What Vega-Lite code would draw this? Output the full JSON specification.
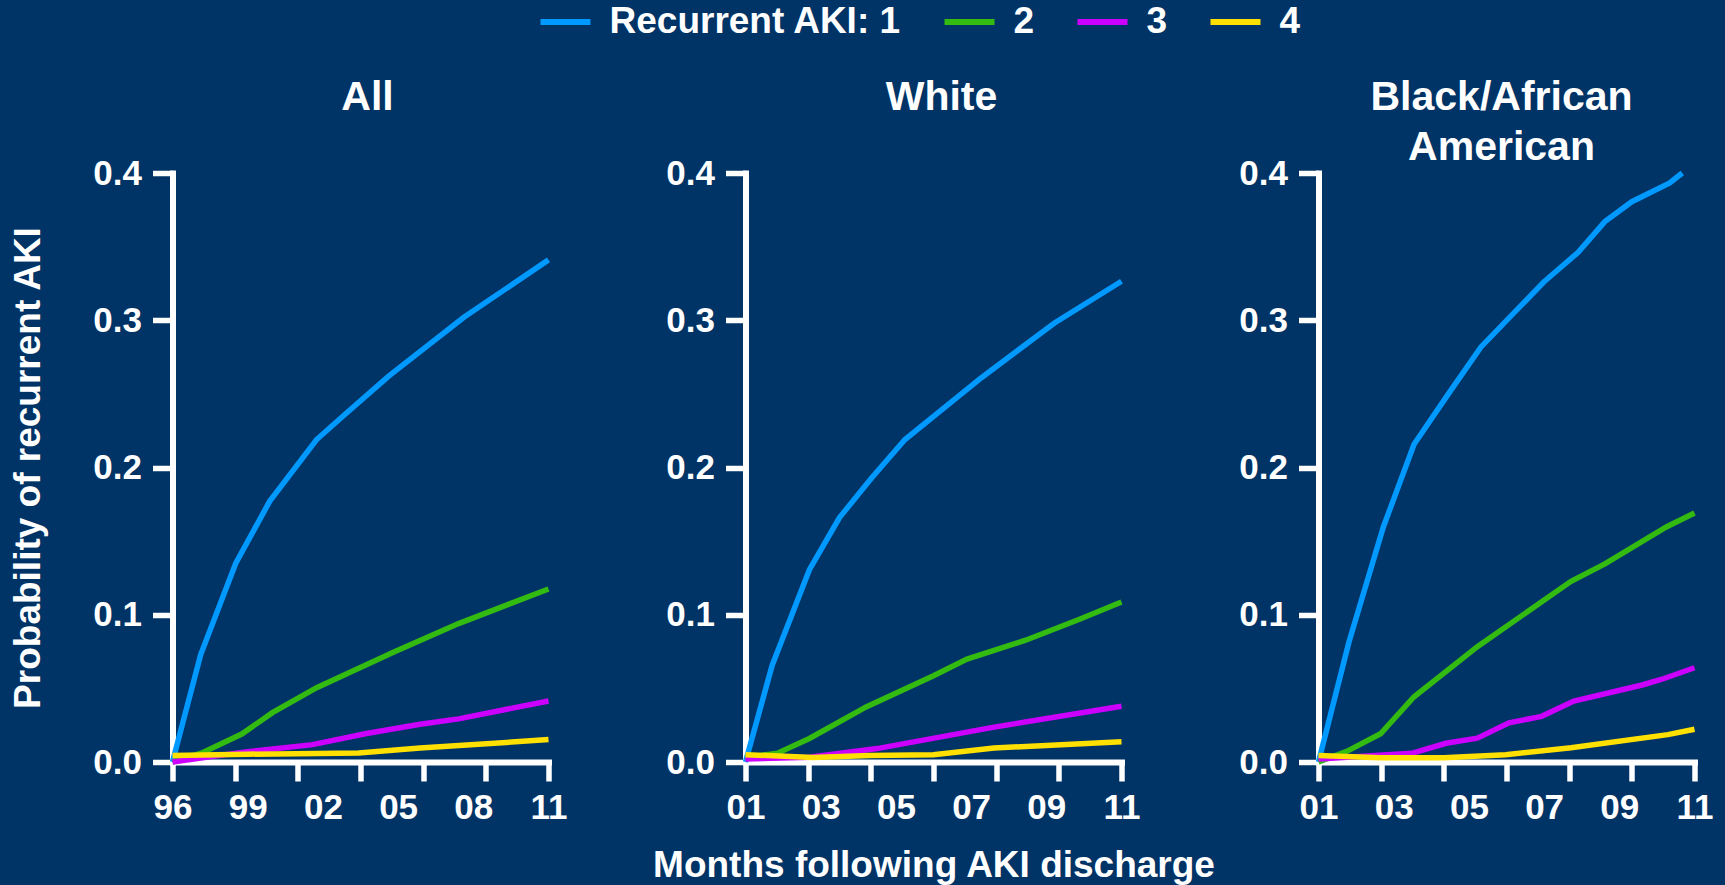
{
  "$schema": "https://vega.github.io/schema/vega-lite/v6.json",
  "background": "#003366",
  "autosize": {"type": "none"},
  "padding": {"left": 172.5, "top": 173, "right": 1552.5, "bottom": 712},
  "bounds": "flush",
  "spacing": 197,
  "datasets": {
    "all": [
      {"month": 0, "p": 0, "aki": 1}, {"month": 0.9, "p": 0.073, "aki": 1}, {"month": 2.02, "p": 0.135, "aki": 1},
      {"month": 3.1, "p": 0.177, "aki": 1}, {"month": 4.6, "p": 0.219, "aki": 1}, {"month": 5.5, "p": 0.236, "aki": 1},
      {"month": 6.9, "p": 0.262, "aki": 1}, {"month": 9.3, "p": 0.302, "aki": 1}, {"month": 12, "p": 0.341, "aki": 1},
      {"month": 0, "p": 0, "aki": 2}, {"month": 0.92, "p": 0.006, "aki": 2}, {"month": 2.21, "p": 0.019, "aki": 2},
      {"month": 3.19, "p": 0.0335, "aki": 2}, {"month": 4.6, "p": 0.0505, "aki": 2}, {"month": 7.05, "p": 0.0745, "aki": 2},
      {"month": 9.13, "p": 0.094, "aki": 2}, {"month": 12, "p": 0.1175, "aki": 2},
      {"month": 0, "p": 0, "aki": 3}, {"month": 2.27, "p": 0.0067, "aki": 3}, {"month": 4.47, "p": 0.0118, "aki": 3},
      {"month": 6.19, "p": 0.0194, "aki": 3}, {"month": 7.9, "p": 0.0256, "aki": 3}, {"month": 9.13, "p": 0.0293, "aki": 3},
      {"month": 12, "p": 0.0414, "aki": 3},
      {"month": 0, "p": 0.0044, "aki": 4}, {"month": 2.39, "p": 0.0053, "aki": 4}, {"month": 5.94, "p": 0.0061, "aki": 4},
      {"month": 7.9, "p": 0.0095, "aki": 4}, {"month": 12, "p": 0.0152, "aki": 4}
    ],
    "white": [
      {"month": 0, "p": 0, "aki": 1}, {"month": 0.85, "p": 0.0656, "aki": 1}, {"month": 2.04, "p": 0.1306, "aki": 1},
      {"month": 3.0, "p": 0.166, "aki": 1}, {"month": 4.03, "p": 0.193, "aki": 1}, {"month": 5.09, "p": 0.219, "aki": 1},
      {"month": 7.53, "p": 0.261, "aki": 1}, {"month": 9.85, "p": 0.298, "aki": 1}, {"month": 12, "p": 0.3265, "aki": 1},
      {"month": 0, "p": 0.003, "aki": 2}, {"month": 1.02, "p": 0.006, "aki": 2}, {"month": 2.04, "p": 0.016, "aki": 2},
      {"month": 3.85, "p": 0.0374, "aki": 2}, {"month": 6.0, "p": 0.0586, "aki": 2}, {"month": 7.07, "p": 0.0699, "aki": 2},
      {"month": 8.94, "p": 0.0827, "aki": 2}, {"month": 10.64, "p": 0.0968, "aki": 2}, {"month": 12, "p": 0.1087, "aki": 2},
      {"month": 0, "p": 0.002, "aki": 3}, {"month": 2.04, "p": 0.0033, "aki": 3}, {"month": 4.2, "p": 0.0091, "aki": 3},
      {"month": 7.8, "p": 0.0232, "aki": 3}, {"month": 12, "p": 0.0378, "aki": 3},
      {"month": 0, "p": 0.005, "aki": 4}, {"month": 2.15, "p": 0.003, "aki": 4}, {"month": 3.97, "p": 0.0044, "aki": 4},
      {"month": 6.0, "p": 0.005, "aki": 4}, {"month": 7.93, "p": 0.0095, "aki": 4}, {"month": 12, "p": 0.0138, "aki": 4}
    ],
    "black": [
      {"month": 0, "p": 0, "aki": 1}, {"month": 0.97, "p": 0.0813, "aki": 1}, {"month": 2.07, "p": 0.1596, "aki": 1},
      {"month": 3.05, "p": 0.2158, "aki": 1}, {"month": 4.14, "p": 0.2498, "aki": 1}, {"month": 5.18, "p": 0.2817, "aki": 1},
      {"month": 7.19, "p": 0.326, "aki": 1}, {"month": 8.28, "p": 0.346, "aki": 1}, {"month": 9.14, "p": 0.367, "aki": 1},
      {"month": 10.0, "p": 0.3805, "aki": 1}, {"month": 11.21, "p": 0.3932, "aki": 1}, {"month": 11.61, "p": 0.4, "aki": 1},
      {"month": 0, "p": 0, "aki": 2}, {"month": 0.92, "p": 0.0074, "aki": 2}, {"month": 1.98, "p": 0.0192, "aki": 2},
      {"month": 3.05, "p": 0.0443, "aki": 2}, {"month": 5.07, "p": 0.0783, "aki": 2}, {"month": 8.06, "p": 0.1227, "aki": 2},
      {"month": 9.14, "p": 0.1345, "aki": 2}, {"month": 11.1, "p": 0.1596, "aki": 2}, {"month": 12, "p": 0.1691, "aki": 2},
      {"month": 0, "p": 0.002, "aki": 3}, {"month": 2.98, "p": 0.0059, "aki": 3}, {"month": 4.07, "p": 0.0127, "aki": 3},
      {"month": 5.07, "p": 0.0162, "aki": 3}, {"month": 6.08, "p": 0.0266, "aki": 3}, {"month": 7.12, "p": 0.031, "aki": 3},
      {"month": 8.15, "p": 0.0414, "aki": 3}, {"month": 10.33, "p": 0.0523, "aki": 3}, {"month": 10.96, "p": 0.0562, "aki": 3},
      {"month": 12, "p": 0.064, "aki": 3},
      {"month": 0, "p": 0.0044, "aki": 4}, {"month": 1.98, "p": 0.0029, "aki": 4}, {"month": 4.0, "p": 0.0029, "aki": 4},
      {"month": 5.97, "p": 0.005, "aki": 4}, {"month": 8.06, "p": 0.0097, "aki": 4}, {"month": 11.15, "p": 0.0186, "aki": 4},
      {"month": 12, "p": 0.0222, "aki": 4}
    ]
  },
  "config": {
    "font": "Liberation Sans",
    "view": {"stroke": null},
    "axis": {
      "grid": false,
      "domainColor": "white", "domainWidth": 6, "domainCap": "square",
      "tickColor": "white", "tickWidth": 5.5, "tickSize": 19,
      "labelColor": "white", "labelFont": "Liberation Sans", "labelFontWeight": "bold", "labelFontSize": 35,
      "titleColor": "white", "titleFont": "Liberation Sans", "titleFontWeight": "bold", "titleFontSize": 37
    },
    "title": {
      "color": "white", "font": "Liberation Sans", "fontWeight": "bold", "fontSize": 41,
      "baseline": "alphabetic", "offset": 37, "frame": "group", "anchor": "middle", "lineHeight": 50
    },
    "legend": {
      "orient": "none", "legendX": 365, "legendY": -179, "direction": "horizontal",
      "padding": 0, "symbolType": "stroke", "symbolSize": 2500, "symbolStrokeWidth": 6,
      "labelColor": "white", "labelFont": "Liberation Sans", "labelFontWeight": "bold", "labelFontSize": 37,
      "labelOffset": 16, "labelLimit": 400, "columnPadding": 31
    }
  },
  "hconcat": [
    {
      "width": 376, "height": 589,
      "title": {"text": "All", "dx": 7},
      "data": {"name": "all"},
      "mark": {"type": "line", "strokeWidth": 5.5},
      "encoding": {
        "x": {
          "field": "month", "type": "quantitative",
          "scale": {"domain": [0, 12], "nice": false, "zero": false},
          "axis": {
            "title": null,
            "values": [0, 2, 2.4, 4, 4.8, 6, 7.2, 8, 9.6, 10, 12],
            "labelExpr": "abs(datum.value / 2.4 - round(datum.value / 2.4)) < 0.001 ? ['96', '99', '02', '05', '08', '11'][round(datum.value / 2.4)] : ''",
            "tickOpacity": {"condition": {"test": "datum.value % 2 === 0", "value": 1}, "value": 0},
            "labelOverlap": false, "labelFlush": false, "labelPadding": 9
          }
        },
        "y": {
          "field": "p", "type": "quantitative",
          "scale": {"domain": [0, 0.4], "nice": false},
          "axis": {
            "title": "Probability of recurrent AKI", "titlePadding": 45.5,
            "values": [0, 0.1, 0.2, 0.3, 0.4], "format": ".1f",
            "tickSize": 20, "labelPadding": 11
          }
        },
        "color": {
          "field": "aki", "type": "nominal",
          "scale": {"domain": [1, 2, 3, 4], "range": ["#0099ff", "#33bb11", "#cc00ff", "#ffe000"]},
          "legend": {"title": null, "labelExpr": "datum.value == 1 ? 'Recurrent AKI: 1' : datum.label"}
        }
      }
    },
    {
      "width": 376, "height": 589,
      "title": {"text": "White", "dx": 8},
      "data": {"name": "white"},
      "mark": {"type": "line", "strokeWidth": 5.5},
      "encoding": {
        "x": {
          "field": "month", "type": "quantitative",
          "scale": {"domain": [0, 12], "nice": false, "zero": false},
          "axis": {
            "title": "Months following AKI discharge", "titlePadding": 22,
            "values": [0, 2, 2.4, 4, 4.8, 6, 7.2, 8, 9.6, 10, 12],
            "labelExpr": "abs(datum.value / 2.4 - round(datum.value / 2.4)) < 0.001 ? ['01', '03', '05', '07', '09', '11'][round(datum.value / 2.4)] : ''",
            "tickOpacity": {"condition": {"test": "datum.value % 2 === 0", "value": 1}, "value": 0},
            "labelOverlap": false, "labelFlush": false, "labelPadding": 9
          }
        },
        "y": {
          "field": "p", "type": "quantitative",
          "scale": {"domain": [0, 0.4], "nice": false},
          "axis": {
            "title": null,
            "values": [0, 0.1, 0.2, 0.3, 0.4], "format": ".1f",
            "tickSize": 20, "labelPadding": 11
          }
        },
        "color": {
          "field": "aki", "type": "nominal",
          "scale": {"domain": [1, 2, 3, 4], "range": ["#0099ff", "#33bb11", "#cc00ff", "#ffe000"]},
          "legend": {"title": null, "labelExpr": "datum.value == 1 ? 'Recurrent AKI: 1' : datum.label"}
        }
      }
    },
    {
      "width": 376, "height": 589,
      "title": {"text": ["Black/African", "American"], "dx": -5, "offset": -13},
      "data": {"name": "black"},
      "mark": {"type": "line", "strokeWidth": 5.5},
      "encoding": {
        "x": {
          "field": "month", "type": "quantitative",
          "scale": {"domain": [0, 12], "nice": false, "zero": false},
          "axis": {
            "title": null,
            "values": [0, 2, 2.4, 4, 4.8, 6, 7.2, 8, 9.6, 10, 12],
            "labelExpr": "abs(datum.value / 2.4 - round(datum.value / 2.4)) < 0.001 ? ['01', '03', '05', '07', '09', '11'][round(datum.value / 2.4)] : ''",
            "tickOpacity": {"condition": {"test": "datum.value % 2 === 0", "value": 1}, "value": 0},
            "labelOverlap": false, "labelFlush": false, "labelPadding": 9
          }
        },
        "y": {
          "field": "p", "type": "quantitative",
          "scale": {"domain": [0, 0.4], "nice": false},
          "axis": {
            "title": null,
            "values": [0, 0.1, 0.2, 0.3, 0.4], "format": ".1f",
            "tickSize": 20, "labelPadding": 11
          }
        },
        "color": {
          "field": "aki", "type": "nominal",
          "scale": {"domain": [1, 2, 3, 4], "range": ["#0099ff", "#33bb11", "#cc00ff", "#ffe000"]},
          "legend": {"title": null, "labelExpr": "datum.value == 1 ? 'Recurrent AKI: 1' : datum.label"}
        }
      }
    }
  ]
}
